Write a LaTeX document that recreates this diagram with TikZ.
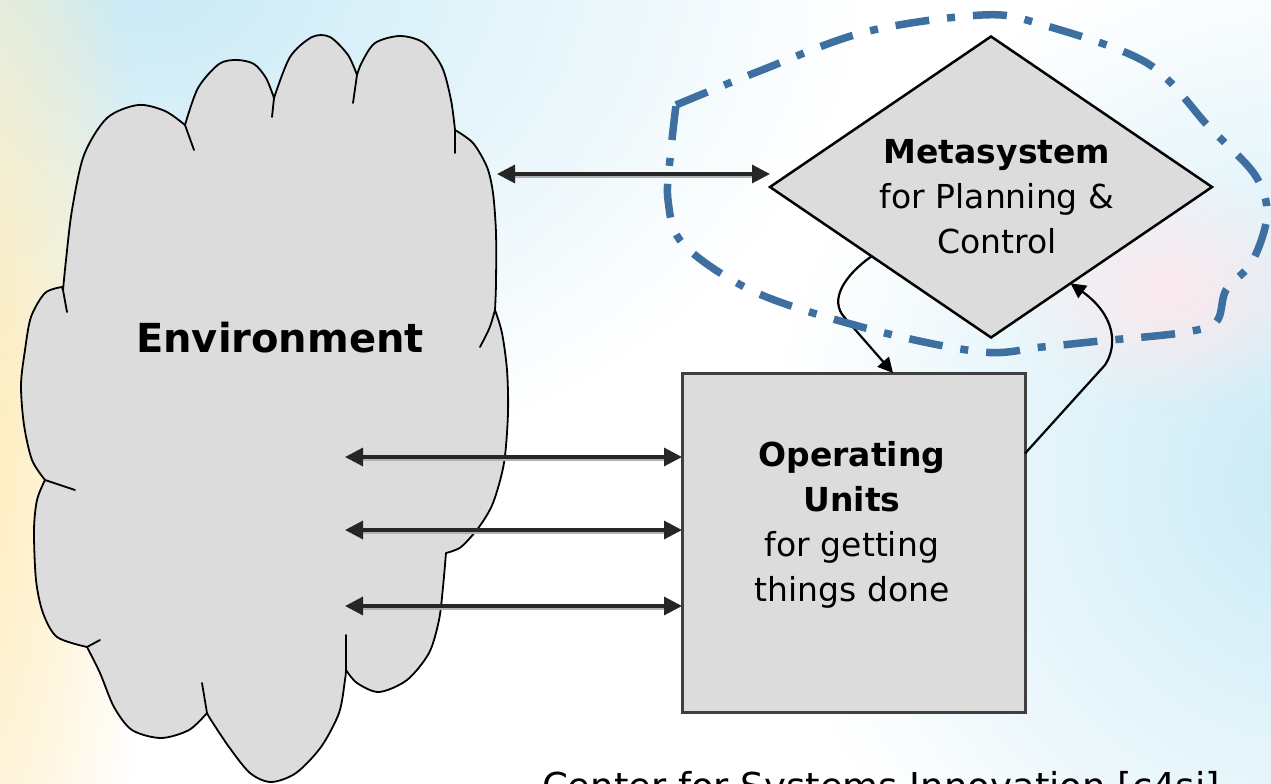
\documentclass[tikz,border=0pt]{standalone}
\usepackage{fontspec}
\setmainfont{DejaVu Sans}
\usetikzlibrary{shapes.geometric,arrows.meta,calc,fadings}
\tikzfading[name=softblob, inner color=transparent!0, outer color=transparent!100]
\definecolor{skyb}{RGB}{200,234,246}
\definecolor{creamy}{RGB}{255,236,186}
\definecolor{pinky}{RGB}{252,232,236}
\definecolor{shapegray}{RGB}{220,220,220}
\definecolor{loopblue}{RGB}{61,111,160}
\tikzset{
  cloudline/.style={draw=black, line width=1.8pt, line join=round, line cap=round},
  dblarrow/.style={line width=3.2pt, draw=black!85,
    arrows={Triangle[length=18pt,width=18pt]-Triangle[length=18pt,width=18pt]},
    preaction={draw=black!30, line width=2.5pt, arrows=-, shorten <=14pt, shorten >=14pt,
      transform canvas={yshift=-3pt}}},
  curvarrow/.style={line width=2.2pt, draw=black, arrows={-Triangle[length=15pt,width=15pt]}},
  loopline/.style={draw=loopblue, line width=7.5pt, dash pattern=on 34pt off 18pt on 8pt off 18pt},
  txt/.style={inner sep=0pt, align=center, font=\fontsize{33}{45}\selectfont},
}
\begin{document}
\begin{tikzpicture}[x=1pt,y=-1pt]
\useasboundingbox (0,0) rectangle (1271,784);
\clip (0,0) rectangle (1271,784);
% background
\fill[white] (0,0) rectangle (1271,784);
\fill[skyb, path fading=softblob] (140,-30) ellipse (720 and 520);
\fill[creamy, path fading=softblob] (-20,430) ellipse (170 and 760);
\fill[skyb, path fading=softblob] (1330,480) ellipse (560 and 540);
\fill[pinky, path fading=softblob] (1170,290) ellipse (160 and 120);

% cloud (environment)
\filldraw[cloudline, fill=shapegray]
  plot[smooth] coordinates {(62,287) (45,293) (31,317) (25,350) (21,385) (24,425) (32,460) (45,480)}
  -- plot[smooth] coordinates {(45,480) (37,500) (34,530) (36,580) (43,613) (57,637) (87,647)}
  -- plot[smooth] coordinates {(87,647) (100,673) (114,707) (132,730) (161,738) (189,730) (207,713)}
  -- plot[smooth] coordinates {(207,713) (211,720) (229,747) (250,773) (271,782) (296,773) (321,747) (339,713) (345,680) (346,670)}
  -- plot[smooth] coordinates {(346,670) (357,683) (379,692) (407,680) (429,653) (439,620) (443,587) (446,553)}
  -- plot[smooth] coordinates {(446,553) (461,547) (479,527) (493,503) (504,463) (508,413) (507,370) (502,333) (495,310)}
  -- plot[smooth] coordinates {(495,310) (496,283) (496,233) (493,193) (487,167) (473,143) (455,130)}
  -- plot[smooth] coordinates {(455,130) (451,100) (442,67) (424,43) (400,36) (375,43) (362,62) (357,75)}
  -- plot[smooth] coordinates {(357,75) (348,55) (330,37) (312,37) (290,57) (274,98)}
  -- plot[smooth] coordinates {(274,98) (266,78) (254,64) (237,60) (219,64) (198,88) (185,125)}
  -- plot[smooth] coordinates {(185,125) (165,111) (138,105) (107,118) (84,155) (72,210) (66,260) (63,290)}
  -- cycle;
\draw[cloudline] (63,290) -- (67,312);
\draw[cloudline] (185,125) -- (194,150);
\draw[cloudline] (274,98) -- (272,117);
\draw[cloudline] (357,75) -- (353,103);
\draw[cloudline] (455,130) -- (455,153);
\draw[cloudline] (495,310) .. controls (490,328) .. (480,347);
\draw[cloudline] (346,670) -- (346,635);
\draw[cloudline] (207,713) -- (202,683);
\draw[cloudline] (87,647) -- (100,640);
\draw[cloudline] (45,480) -- (75,490);
\node[inner sep=0pt, anchor=base, font=\fontsize{40}{48}\selectfont\bfseries] (envtext) at (280,352) {Environment};

% metasystem and operating units
\node[diamond, draw=black, line width=2.5pt, fill=shapegray, minimum width=442pt,
  minimum height=301pt, inner sep=0pt, outer sep=0pt] (meta) at (991,187) {};
\node[txt, anchor=north] (metatext) at (997,139) {\textbf{Metasystem}\\for Planning \&\\Control};
\node[draw=black!75, line width=3pt, fill=shapegray, minimum width=343pt,
  minimum height=339pt, inner sep=0pt, outer sep=0pt] (ops) at (853.5,542.5) {};
\node[txt, anchor=north] (opstext) at (852,441) {\textbf{Operating}\\\textbf{Units}\\for getting\\things done};

% connectors
\coordinate (e0) at (497,174);
\coordinate (e1) at (345,457);
\coordinate (e2) at (345,530);
\coordinate (e3) at (345,606);
\draw[dblarrow] (e0) -- (e0 -| meta.west);
\draw[dblarrow] (e1) -- (e1 -| ops.west);
\draw[dblarrow] (e2) -- (e2 -| ops.west);
\draw[dblarrow] (e3) -- (e3 -| ops.west);
\draw[curvarrow] ($(meta.west)!0.46!(meta.south)$) .. controls (845,275) and (828,300) .. (845,318)
  -- ([xshift=211pt]ops.north west);
\draw[curvarrow] ([yshift=89pt]ops.east) -- (1105,365) .. controls (1118,345) and (1115,315) ..
  ($(meta.east)!0.64!(meta.south)$);

% dash-dot boundary of the metasystem
\draw[loopline] plot[smooth, tension=0.55] coordinates {(676,105) (757,72) (865,32) (982,15) (1040,24)
  (1147,63) (1209,127) (1255,175) (1267,215) (1252,262) (1226,290) (1216,322) (1180,333) (1100,341)
  (1042,347) (982,352) (873,330) (757,293) (684,245) (668,200) (671,150) (676,105)};

% credit line (cut by the lower edge, as in the original)
\node[inner sep=0pt, anchor=base, font=\fontsize{37}{44}\selectfont] (credit) at (881,799)
  {Center for Systems Innovation [c4si]};
\end{tikzpicture}
\end{document}
